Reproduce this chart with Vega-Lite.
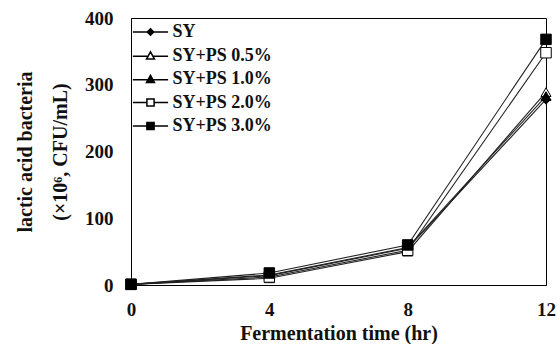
{
  "$schema": "https://vega.github.io/schema/vega-lite/v6.json",
  "width": 415,
  "height": 267,
  "autosize": {"type": "none"},
  "padding": {"left": 131, "top": 18, "right": 14, "bottom": 59},
  "background": "white",
  "config": {
    "view": {"stroke": "black", "strokeWidth": 1},
    "font": "Liberation Serif",
    "axis": {
      "domainColor": "black",
      "grid": false,
      "ticks": false,
      "labelFont": "Liberation Serif",
      "labelFontWeight": "bold",
      "labelFontSize": 19,
      "labelColor": "#111",
      "titleFont": "Liberation Serif",
      "titleFontWeight": "bold",
      "titleFontSize": 20,
      "titleColor": "#111"
    }
  },
  "data": {
    "values": [
      {"series": "SY", "time": 0, "value": 1},
      {"series": "SY", "time": 4, "value": 14},
      {"series": "SY", "time": 8, "value": 55},
      {"series": "SY", "time": 12, "value": 278},
      {"series": "SY+PS 0.5%", "time": 0, "value": 1},
      {"series": "SY+PS 0.5%", "time": 4, "value": 10},
      {"series": "SY+PS 0.5%", "time": 8, "value": 50},
      {"series": "SY+PS 0.5%", "time": 12, "value": 289},
      {"series": "SY+PS 1.0%", "time": 0, "value": 1},
      {"series": "SY+PS 1.0%", "time": 4, "value": 15},
      {"series": "SY+PS 1.0%", "time": 8, "value": 56},
      {"series": "SY+PS 1.0%", "time": 12, "value": 283},
      {"series": "SY+PS 2.0%", "time": 0, "value": 1},
      {"series": "SY+PS 2.0%", "time": 4, "value": 12},
      {"series": "SY+PS 2.0%", "time": 8, "value": 52},
      {"series": "SY+PS 2.0%", "time": 12, "value": 348},
      {"series": "SY+PS 3.0%", "time": 0, "value": 1},
      {"series": "SY+PS 3.0%", "time": 4, "value": 18},
      {"series": "SY+PS 3.0%", "time": 8, "value": 60},
      {"series": "SY+PS 3.0%", "time": 12, "value": 368}
    ]
  },
  "encoding": {
    "x": {
      "field": "time",
      "type": "quantitative",
      "scale": {"domain": [0, 12], "nice": false},
      "axis": {"values": [0, 4, 8, 12], "title": "Fermentation time (hr)", "labelPadding": 15, "titlePadding": 4, "labelFlush": false}
    }
  },
  "layer": [
    {
      "mark": {"type": "line", "color": "#222", "strokeWidth": 1.1},
      "encoding": {
        "detail": {"field": "series"},
        "y": {
          "field": "value",
          "type": "quantitative",
          "scale": {"domain": [0, 400], "nice": false},
          "axis": {
            "orient": "left",
            "values": [0, 100, 200, 300, 400],
            "title": "(×10⁶, CFU/mL)",
            "labelPadding": 18,
            "titleX": -71,
            "titleY": 133.5,
            "titleAngle": -90,
            "titleAlign": "center",
            "titleBaseline": "middle",
            "labelFlush": false
          }
        }
      }
    },
    {
      "transform": [{"filter": "datum.series == 'SY'"}],
      "mark": {"type": "point", "shape": "diamond", "filled": true, "size": 90, "fill": "black", "stroke": "black", "strokeWidth": 1, "opacity": 1},
      "encoding": {"y": {"field": "value", "type": "quantitative", "axis": null}}
    },
    {
      "transform": [{"filter": "datum.series == 'SY+PS 0.5%' || datum.series == 'SY+PS 1.0%'"}],
      "mark": {"type": "point", "shape": "triangle-up", "filled": true, "size": 100, "stroke": "black", "strokeWidth": 1, "opacity": 1},
      "encoding": {
        "y": {"field": "value", "type": "quantitative", "axis": null},
        "fill": {"condition": {"test": "datum.series == 'SY+PS 1.0%'", "value": "black"}, "value": "white"}
      }
    },
    {
      "transform": [{"filter": "datum.series == 'SY+PS 2.0%' || datum.series == 'SY+PS 3.0%'"}],
      "mark": {"type": "point", "shape": "square", "filled": true, "size": 110, "stroke": "black", "strokeWidth": 1, "opacity": 1},
      "encoding": {
        "y": {"field": "value", "type": "quantitative", "axis": null},
        "fill": {"condition": {"test": "datum.series == 'SY+PS 3.0%'", "value": "black"}, "value": "white"}
      }
    },
    {
      "transform": [{"filter": "false"}],
      "mark": {"type": "point", "filled": true, "opacity": 1, "stroke": "black", "strokeWidth": 1},
      "encoding": {
        "y": {
          "field": "value",
          "type": "quantitative",
          "axis": {
            "orient": "left",
            "labels": false,
            "domain": false,
            "ticks": false,
            "title": "lactic acid bacteria",
            "titleX": -106,
            "titleY": 133.5,
            "titleAngle": -90,
            "titleAlign": "center",
            "titleBaseline": "middle"
          }
        },
        "shape": {
          "field": "series",
          "title": null,
          "scale": {
            "domain": ["SY", "SY+PS 0.5%", "SY+PS 1.0%", "SY+PS 2.0%", "SY+PS 3.0%"],
            "range": [
              "M -4.4 0 L -0.8 0 M 0.8 0 L 4.4 0 M 0 -0.8 L 0.8 0 L 0 0.8 L -0.8 0 Z",
              "M -4.4 0.2 L -0.6 0.2 M 0.6 0.2 L 4.4 0.2 M 0 -0.9 L 1 0.9 L -1 0.9 Z",
              "M -4.4 0.2 L -0.6 0.2 M 0.6 0.2 L 4.4 0.2 M 0 -0.9 L 1 0.9 L -1 0.9 Z",
              "M -4.4 0 L -0.9 0 M 0.9 0 L 4.4 0 M -0.9 -0.9 L 0.9 -0.9 L 0.9 0.9 L -0.9 0.9 Z",
              "M -4.4 0 L -0.9 0 M 0.9 0 L 4.4 0 M -0.9 -0.9 L 0.9 -0.9 L 0.9 0.9 L -0.9 0.9 Z"
            ]
          },
          "legend": {
            "orient": "none",
            "legendX": 10.5,
            "legendY": 5,
            "padding": 0,
            "symbolSize": 64,
            "labelFont": "Liberation Serif",
            "labelFontWeight": "bold",
            "labelFontSize": 18,
            "labelColor": "#111",
            "labelOffset": 13,
            "rowPadding": 5.5,
            "labelLimit": 300,
            "encode": {
              "symbols": {
                "update": {
                  "stroke": {"value": "black"},
                  "strokeWidth": {"value": 1.2},
                  "opacity": {"value": 1},
                  "fillOpacity": {"value": 1},
                  "strokeOpacity": {"value": 1},
                  "fill": {"scale": "fill", "field": "value"}
                }
              }
            }
          }
        },
        "fill": {
          "field": "series",
          "title": null,
          "scale": {
            "domain": ["SY", "SY+PS 0.5%", "SY+PS 1.0%", "SY+PS 2.0%", "SY+PS 3.0%"],
            "range": ["black", "white", "black", "white", "black"]
          }
        }
      }
    }
  ],
  "resolve": {"axis": {"y": "independent"}}
}
